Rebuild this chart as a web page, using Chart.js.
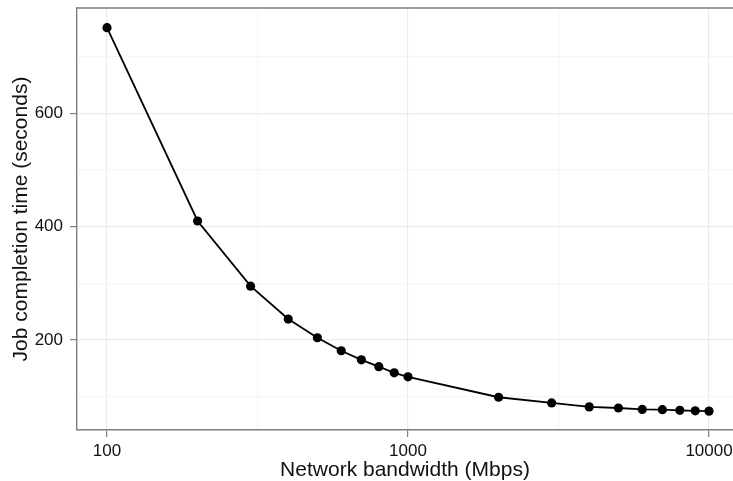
<!DOCTYPE html>
<html>
<head>
<meta charset="utf-8">
<title>Job completion time vs network bandwidth</title>
<script src="https://cdn.jsdelivr.net/npm/chart.js@4/dist/chart.umd.min.js"></script>
<style>
  html, body { margin: 0; padding: 0; background: #ffffff; }
  #wrap { width: 733px; height: 481px; }
</style>
</head>
<body>
<div id="wrap"><canvas id="chart" width="733" height="481"></canvas></div>
<script>
// Measured completion time for each link speed
const bandwidthMbps = [100, 200, 300, 400, 500, 600, 700, 800, 900, 1000,
                       2000, 3000, 4000, 5000, 6000, 7000, 8000, 9000, 10000];
const completionSeconds = [751, 410, 295, 237, 204, 181, 165, 153, 142, 135,
                           99, 89, 82, 80, 77.5, 77, 76, 75, 74.5];

// Axis breaks: labelled majors plus fainter minor grid lines
const xMajorTicks = [100, 1000, 10000];
const xMinorTicks = [316.23, 3162.3];
const yMajorTicks = [200, 400, 600];
const yMinorTicks = [100, 300, 500, 700];

const xRange = [79.5, 12014];
const yRange = [41.2, 785.8];

const FONT = "'Liberation Sans', Helvetica, Arial, sans-serif";
const MAJOR_GRID = '#ebebeb';
const MINOR_GRID = '#f5f5f5';
const FRAME = '#7f7f7f';

const isMajor = (list, v) => list.some(m => Math.abs(m - v) < 1e-6);

// Top edge of the panel frame (left and bottom come from the axes)
const frameTop = {
  id: 'frameTop',
  afterDatasetsDraw(chart) {
    const { ctx, chartArea: a } = chart;
    ctx.save();
    ctx.strokeStyle = FRAME;
    ctx.lineWidth = 1.4;
    ctx.beginPath();
    ctx.moveTo(a.left, a.top);
    ctx.lineTo(a.right, a.top);
    ctx.stroke();
    ctx.restore();
  }
};

new Chart(document.getElementById('chart'), {
  type: 'line',
  data: {
    datasets: [{
      data: bandwidthMbps.map((b, i) => ({ x: b, y: completionSeconds[i] })),
      borderColor: '#000000',
      backgroundColor: '#000000',
      borderWidth: 1.8,
      pointRadius: 4.6,
      pointBorderWidth: 0,
      pointBackgroundColor: '#000000',
      tension: 0,
      fill: false,
      clip: false
    }]
  },
  options: {
    responsive: false,
    animation: false,
    devicePixelRatio: 1,
    layout: { autoPadding: false, padding: { top: 8, right: 0, bottom: 0, left: 0 } },
    plugins: { legend: { display: false }, tooltip: { enabled: false } },
    scales: {
      x: {
        type: 'logarithmic',
        min: xRange[0],
        max: xRange[1],
        bounds: 'data',
        afterBuildTicks(scale) {
          scale.ticks = [...xMajorTicks, ...xMinorTicks]
            .sort((a, b) => a - b)
            .map(v => ({ value: v, major: isMajor(xMajorTicks, v) }));
        },
        afterFit(scale) {
          scale.height = 51;
          scale.paddingLeft = 0;
          scale.paddingRight = 0;
        },
        ticks: {
          autoSkip: false,
          maxRotation: 0,
          padding: 4,
          color: '#111111',
          font: { family: FONT, size: 17 },
          callback: v => isMajor(xMajorTicks, v) ? String(v) : ''
        },
        grid: {
          drawTicks: true,
          tickLength: 7,
          lineWidth: 1.2,
          color: c => isMajor(xMajorTicks, c.tick.value) ? MAJOR_GRID : MINOR_GRID,
          tickColor: c => isMajor(xMajorTicks, c.tick.value) ? FRAME : 'rgba(0,0,0,0)'
        },
        border: { display: true, color: FRAME, width: 1.4 },
        title: {
          display: true,
          text: 'Network bandwidth (Mbps)',
          color: '#111111',
          font: { family: FONT, size: 21, lineHeight: 1 },
          padding: { top: 0, bottom: 0 }
        }
      },
      y: {
        type: 'linear',
        min: yRange[0],
        max: yRange[1],
        afterBuildTicks(scale) {
          scale.ticks = [...yMajorTicks, ...yMinorTicks]
            .sort((a, b) => a - b)
            .map(v => ({ value: v, major: isMajor(yMajorTicks, v) }));
        },
        afterFit(scale) {
          scale.width = 77;
          scale.paddingTop = 0;
          scale.paddingBottom = 0;
        },
        ticks: {
          autoSkip: false,
          padding: 7,
          color: '#111111',
          font: { family: FONT, size: 17 },
          callback: v => isMajor(yMajorTicks, v) ? String(v) : ''
        },
        grid: {
          drawTicks: true,
          tickLength: 7,
          lineWidth: 1.2,
          color: c => isMajor(yMajorTicks, c.tick.value) ? MAJOR_GRID : MINOR_GRID,
          tickColor: c => isMajor(yMajorTicks, c.tick.value) ? FRAME : 'rgba(0,0,0,0)'
        },
        border: { display: true, color: FRAME, width: 1.4 },
        title: {
          display: true,
          text: 'Job completion time (seconds)',
          color: '#111111',
          font: { family: FONT, size: 21, lineHeight: 1 },
          padding: { top: 11, bottom: 0 }
        }
      }
    }
  },
  plugins: [frameTop]
});
</script>
</body>
</html>
